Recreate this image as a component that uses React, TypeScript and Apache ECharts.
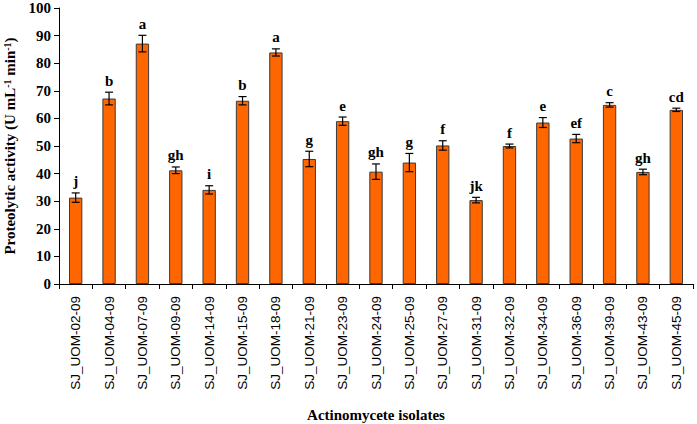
import { useEffect, useRef } from "react";
import * as echarts from "echarts";

const categories = [
  "SJ_UOM-02-09", "SJ_UOM-04-09", "SJ_UOM-07-09", "SJ_UOM-09-09", "SJ_UOM-14-09",
  "SJ_UOM-15-09", "SJ_UOM-18-09", "SJ_UOM-21-09", "SJ_UOM-23-09", "SJ_UOM-24-09",
  "SJ_UOM-25-09", "SJ_UOM-27-09", "SJ_UOM-31-09", "SJ_UOM-32-09", "SJ_UOM-34-09",
  "SJ_UOM-36-09", "SJ_UOM-39-09", "SJ_UOM-43-09", "SJ_UOM-45-09",
];
const values = [31.3, 67.2, 87.1, 41.2, 34.1, 66.4, 83.9, 45.3, 59.0, 40.7, 44.0, 50.2, 30.4, 50.0, 58.5, 52.7, 64.9, 40.6, 63.1];
const errors = [1.7, 2.3, 3.0, 1.2, 1.5, 1.5, 1.3, 2.8, 1.5, 2.8, 3.3, 1.7, 1.0, 0.7, 1.8, 1.5, 0.8, 1.0, 0.6];
const letters = ["j", "b", "a", "gh", "i", "b", "a", "g", "e", "gh", "g", "f", "jk", "f", "e", "ef", "c", "gh", "cd"];

const SERIF = '"Liberation Serif", "Times New Roman", serif';
const SANS = '"Liberation Sans", Arial, sans-serif';

export default function App() {
  const ref = useRef<HTMLDivElement>(null);
  useEffect(() => {
    if (!ref.current) return;
    const chart = echarts.init(ref.current, null, { renderer: "svg" });
    chart.setOption({
      animation: false,
      backgroundColor: "#ffffff",
      grid: { left: 59, right: 4, top: 8, bottom: 140, containLabel: false, outerBoundsMode: "none" },
      xAxis: {
        type: "category",
        data: categories,
        boundaryGap: true,
        name: "Actinomycete isolates",
        nameLocation: "middle",
        nameGap: 123,
        nameTextStyle: { fontFamily: SERIF, fontWeight: "bold", fontSize: 15, color: "#000" },
        axisLine: { lineStyle: { color: "#000", width: 1 } },
        axisTick: { show: true, alignWithLabel: false, length: 5, lineStyle: { color: "#000" } },
        axisLabel: {
          rotate: 90,
          interval: 0,
          margin: 12,
          fontFamily: SANS,
          fontSize: 13.5,
          color: "#000",
        },
      },
      yAxis: {
        type: "value",
        min: 0,
        max: 100,
        interval: 10,
        name: "{n|Proteolytic activity (U mL}{s|-1}{n| min}{s|-1}{n|)}",
        nameLocation: "middle",
        nameGap: 40,
        nameTextStyle: {
          rich: {
            n: { fontFamily: SERIF, fontWeight: "bold", fontSize: 15, color: "#000" },
            s: { fontFamily: SERIF, fontWeight: "bold", fontSize: 10, color: "#000", verticalAlign: "top", padding: [0, 0, 6, 0] },
          },
        },
        splitLine: { show: false },
        axisLine: { show: true, lineStyle: { color: "#000", width: 1 } },
        axisTick: { show: true, length: 5, lineStyle: { color: "#000" } },
        axisLabel: { fontFamily: SERIF, fontWeight: "bold", fontSize: 15, color: "#000", margin: 8 },
      },
      series: [
        {
          type: "bar",
          data: values,
          barWidth: "40%",
          itemStyle: { color: "#FF6600", borderColor: "#3a3a3a", borderWidth: 1 },
        },
        {
          type: "custom",
          data: values.map((v, i) => [i, v, errors[i]]),
          encode: { x: 0, y: 1 },
          z: 10,
          renderItem: (params: any, api: any) => {
            const i = params.dataIndex;
            const x = api.coord([i, 0])[0];
            const hi = api.coord([i, values[i] + errors[i]])[1];
            const lo = api.coord([i, values[i] - errors[i]])[1];
            const w = 4;
            const st = { stroke: "#000", lineWidth: 1.2 };
            return {
              type: "group",
              children: [
                { type: "line", shape: { x1: x, y1: hi, x2: x, y2: lo }, style: st },
                { type: "line", shape: { x1: x - w, y1: hi, x2: x + w, y2: hi }, style: st },
                { type: "line", shape: { x1: x - w, y1: lo, x2: x + w, y2: lo }, style: st },
                {
                  type: "text",
                  style: {
                    text: letters[i],
                    x: x,
                    y: hi - 4,
                    align: "center",
                    verticalAlign: "bottom",
                    fontFamily: SERIF,
                    fontWeight: "bold",
                    fontSize: 15,
                    fill: "#000",
                  },
                },
              ],
            };
          },
        },
      ],
    });
    return () => chart.dispose();
  }, []);
  return <div ref={ref} style={{ width: 697, height: 424, position: "absolute", left: 0, top: 0 }} />;
}
